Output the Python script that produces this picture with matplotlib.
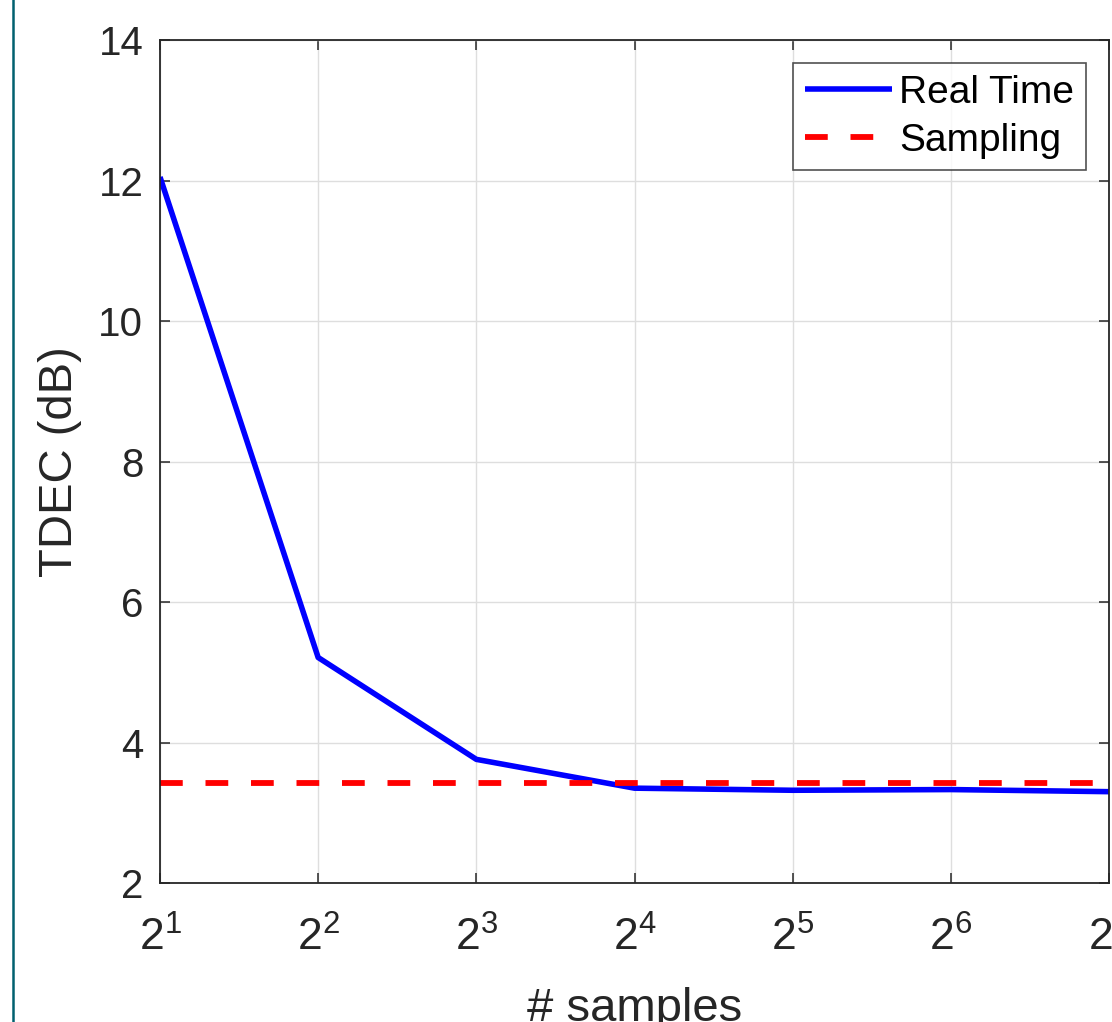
import matplotlib
matplotlib.use("Agg")
import matplotlib.pyplot as plt
from matplotlib.lines import Line2D
from matplotlib.ticker import FixedLocator, FixedFormatter

plt.rcParams['font.family'] = ['Liberation Sans', 'DejaVu Sans']
plt.rcParams['mathtext.fontset'] = 'custom'
plt.rcParams['mathtext.rm'] = 'Liberation Sans'
plt.rcParams['mathtext.it'] = 'Liberation Sans'

# ---- data ----
samples = [2, 4, 8, 16, 32, 64, 128]
real_time = [12.05, 5.21, 3.76, 3.35, 3.32, 3.33, 3.30]
sampling = [3.42, 3.42, 3.42, 3.42, 3.42, 3.42, 3.42]
x_tick_labels = [r'$2^{1}$', r'$2^{2}$', r'$2^{3}$', r'$2^{4}$', r'$2^{5}$', r'$2^{6}$', r'$2^{7}$']
y_ticks = [2, 4, 6, 8, 10, 12, 14]

W, H = 1112, 1022
fig = plt.figure(figsize=(W / 100, H / 100), dpi=100)
ax = fig.add_axes([160 / W, (H - 883) / H, (1109 - 160) / W, (883 - 40) / H])

ax.plot(samples, real_time, color='#0000ff', lw=4.0, label='Real Time', solid_capstyle='butt')
ax.plot(samples, sampling, color='#ff0000', lw=4.2, dashes=(3.9, 3.9), label='Sampling')

ax.set_xscale('log', base=2)
ax.set_xlim(2, 128)
ax.set_ylim(2, 14)
ax.xaxis.set_major_locator(FixedLocator(samples))
ax.xaxis.set_major_formatter(FixedFormatter(x_tick_labels))
ax.xaxis.set_minor_locator(FixedLocator([]))
ax.set_yticks(y_ticks)

ax.grid(True, color='#dedede', lw=1.0)
ax.set_axisbelow(True)
for s in ax.spines.values():
    s.set_color('#262626')
    s.set_linewidth(1.3)
ax.tick_params(direction='in', length=7.5, width=1.1, colors='#262626',
               top=True, right=True, labelsize=29, pad=12)
ax.tick_params(axis='x', pad=24, labelsize=32)

ax.set_ylabel('TDEC (dB)', fontsize=34, color='#262626', labelpad=12)
ax.set_xlabel('# samples', fontsize=34, color='#262626', labelpad=20)

leg = ax.legend(loc='upper right', fontsize=28, frameon=True, fancybox=False,
                edgecolor='#262626', handlelength=2.24, handletextpad=0.2,
                borderaxespad=0.59, borderpad=0.3, labelspacing=0.31)
leg.get_frame().set_linewidth(1.2)
for t in leg.get_texts():
    t.set_color('#000000')

fig.add_artist(Line2D([12.5 / W, 12.5 / W], [0, 1], transform=fig.transFigure,
                      color='#00606f', lw=1.8))

fig.savefig('out.png', dpi=100)
